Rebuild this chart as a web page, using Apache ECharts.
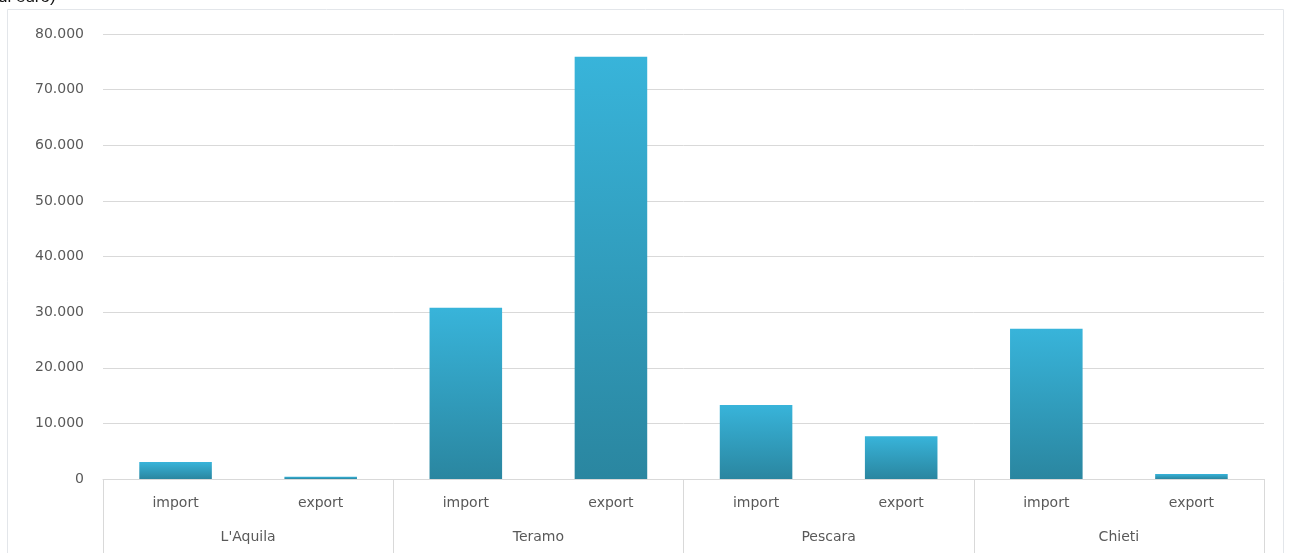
<!DOCTYPE html>
<html>
<head>
<meta charset="utf-8">
<script src="https://cdn.jsdelivr.net/npm/echarts@6/dist/echarts.min.js"></script>
<style>
html,body{margin:0;padding:0;background:#fff;}
#chart{width:1292px;height:553px;}
</style>
</head>
<body>
<div id="chart"></div>
<script>
const subCategories = ['import','export','import','export','import','export','import','export'];
const provinces = ["L'Aquila", 'Teramo', 'Pescara', 'Chieti'];
const values = [3050, 400, 30800, 75900, 13300, 7700, 27000, 900];
const yTicks = [0, 10000, 20000, 30000, 40000, 50000, 60000, 70000, 80000];
const titleText = 'di euro)';

const chart = echarts.init(document.getElementById('chart'));
const fontFam = 'DejaVu Sans';
chart.setOption({
  animation: false,
  backgroundColor: '#ffffff',
  graphic: [
    {type:'rect', shape:{x:7.5, y:9.5, width:1276, height:560}, style:{fill:'none', stroke:'#e3e6ea', lineWidth:1}, z:-1},
    {type:'text', left:-2, top:-11, style:{text:titleText, font:'17px "Liberation Sans"', fill:'#111'}}
  ],
  grid: {left:103, right:28, top:34, bottom:74, containLabel:false},
  xAxis: [
    {
      type:'category', data: subCategories, position:'bottom',
      axisLine:{show:true, lineStyle:{color:'#d9d9d9', width:1}},
      axisTick:{show:false},
      axisLabel:{color:'#595959', fontFamily:fontFam, fontSize:14, margin:17, interval:0}
    },
    {
      type:'category', data: provinces, position:'bottom',
      axisLine:{show:false},
      axisTick:{show:true, length:80, lineStyle:{color:'#d9d9d9', width:1}},
      axisLabel:{color:'#595959', fontFamily:fontFam, fontSize:14, margin:51, interval:0}
    }
  ],
  yAxis: {
    type:'value', min:0, max:80000, interval:10000,
    axisLine:{show:false}, axisTick:{show:false},
    splitLine:{lineStyle:{color:'#d9d9d9', width:1}},
    axisLabel:{color:'#595959', fontFamily:fontFam, fontSize:14, margin:19,
      formatter: v => yTicks.includes(v) ? (v === 0 ? '0' : v.toLocaleString('de-DE')) : ''}
  },
  series: [{
    type:'bar', xAxisIndex:0, data: values, barWidth:'50%',
    itemStyle:{color: new echarts.graphic.LinearGradient(0,0,0,1,[
      {offset:0, color:'#38b4da'},
      {offset:1, color:'#2a86a0'}
    ])}
  }]
});
</script>
</body>
</html>
